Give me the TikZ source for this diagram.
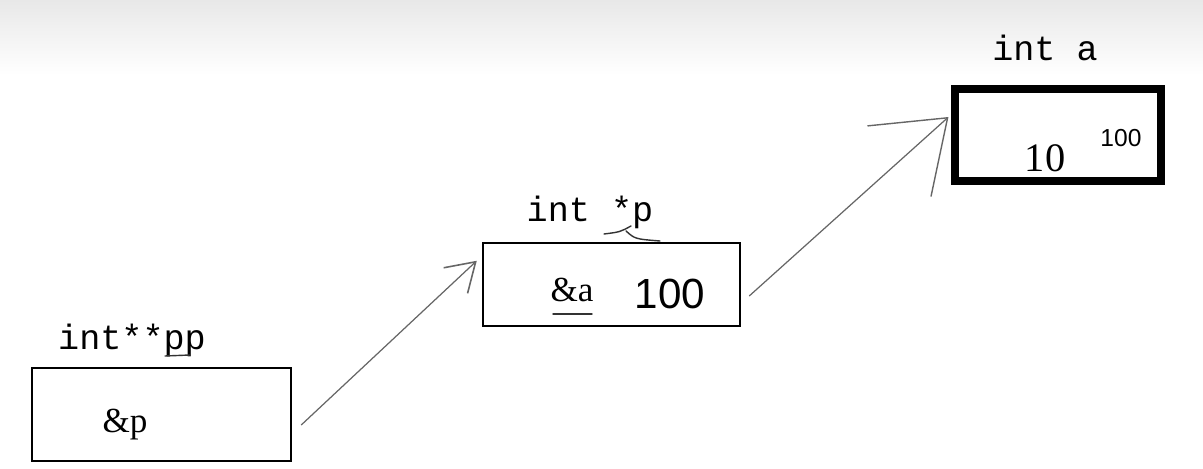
\documentclass[tikz,border=0pt]{standalone}
\usepackage{fontspec}
\setmainfont{Liberation Serif}
\setmonofont{Liberation Mono}
\setsansfont{Liberation Sans}
\usetikzlibrary{arrows.meta, positioning, calc}
\tikzset{
  cell/.style     = {rectangle, draw=black, line width=1.4pt, inner sep=0pt},
  bigcell/.style  = {rectangle, draw=black, line width=4pt, inner sep=0pt},
  vartitle/.style = {font=\ttfamily\fontsize{20}{24}\selectfont, inner sep=0pt},
  content/.style  = {font=\rmfamily\fontsize{20}{24}\selectfont, inner sep=0pt},
  handnote/.style = {font=\sffamily\fontsize{24}{26}\selectfont, inner sep=0pt},
  pointer/.style  = {draw=gray!80!black, line width=0.7pt},
  handmark/.style = {draw=black!80, line width=0.8pt, line cap=round}
}

\begin{document}
\begin{tikzpicture}
  \useasboundingbox (0,0) rectangle (24.06,9.38);
  % --- header band ---
  \shade[top color=gray!18, bottom color=white] (0,7.88) rectangle (24.06,9.38);

  % --- memory cells ---
  \node (pp) [cell, minimum width=5.18cm, minimum height=1.86cm] at (3.23,1.09) {};
  \node (p)  [cell, minimum width=5.14cm, minimum height=1.66cm] at (12.23,3.69) {};
  \node (a)  [bigcell, minimum width=4.12cm, minimum height=1.84cm] at (21.16,6.68) {};

  % --- names ---
  \node (pp_lbl) [vartitle] at (2.64,2.58) {int**pp};
  \node (p_lbl)  [vartitle] at (11.8,5.14) {int *p};
  \node (a_lbl)  [vartitle] at (20.9,8.42) {int a};

  % --- values ---
  \node (pp_val) [content] at (2.5,0.88)  {\&p};
  \node (p_val)  [content] at (11.44,3.58) {\&a};
  \node (a_val)  [content, font=\rmfamily\fontsize{23}{26}\selectfont] at (20.9,6.22) {10};
  \node (p_adr)  [handnote] at (13.4,3.5) {100};
  \node (a_adr)  [handnote, font=\sffamily\fontsize{14}{16}\selectfont] at (22.42,6.62) {100};

  % hand marks
  \draw[handmark] (11.06,3.1) -- (11.84,3.1);
  \draw[handmark] (3.3,2.26) -- (3.8,2.28);
  \draw[handmark] (12.08,4.7) .. controls (12.4,4.74) .. (12.62,4.86);
  \draw[handmark] (12.52,4.76) .. controls (12.7,4.6) .. (13.2,4.56);

  % Arrows
  \coordinate (pp_tail) at ($(pp.east)+(0.18,-0.21)$);
  \coordinate (p_head)  at ($(p.north west)+(-0.1,-0.38)$);
  \coordinate (p_tail)  at ($(p.east)+(0.16,-0.23)$);
  \coordinate (a_head)  at ($(a.west)+(-0.06,0.36)$);
  \draw[pointer, -{Straight Barb[length=0.55cm, width=0.7cm, line width=0.9pt]}] (pp_tail) -- (p_head);
  \draw[pointer, -{Straight Barb[length=1.3cm, width=1.9cm, line width=0.8pt]}] (p_tail) -- (a_head);

\end{tikzpicture}
\end{document}
